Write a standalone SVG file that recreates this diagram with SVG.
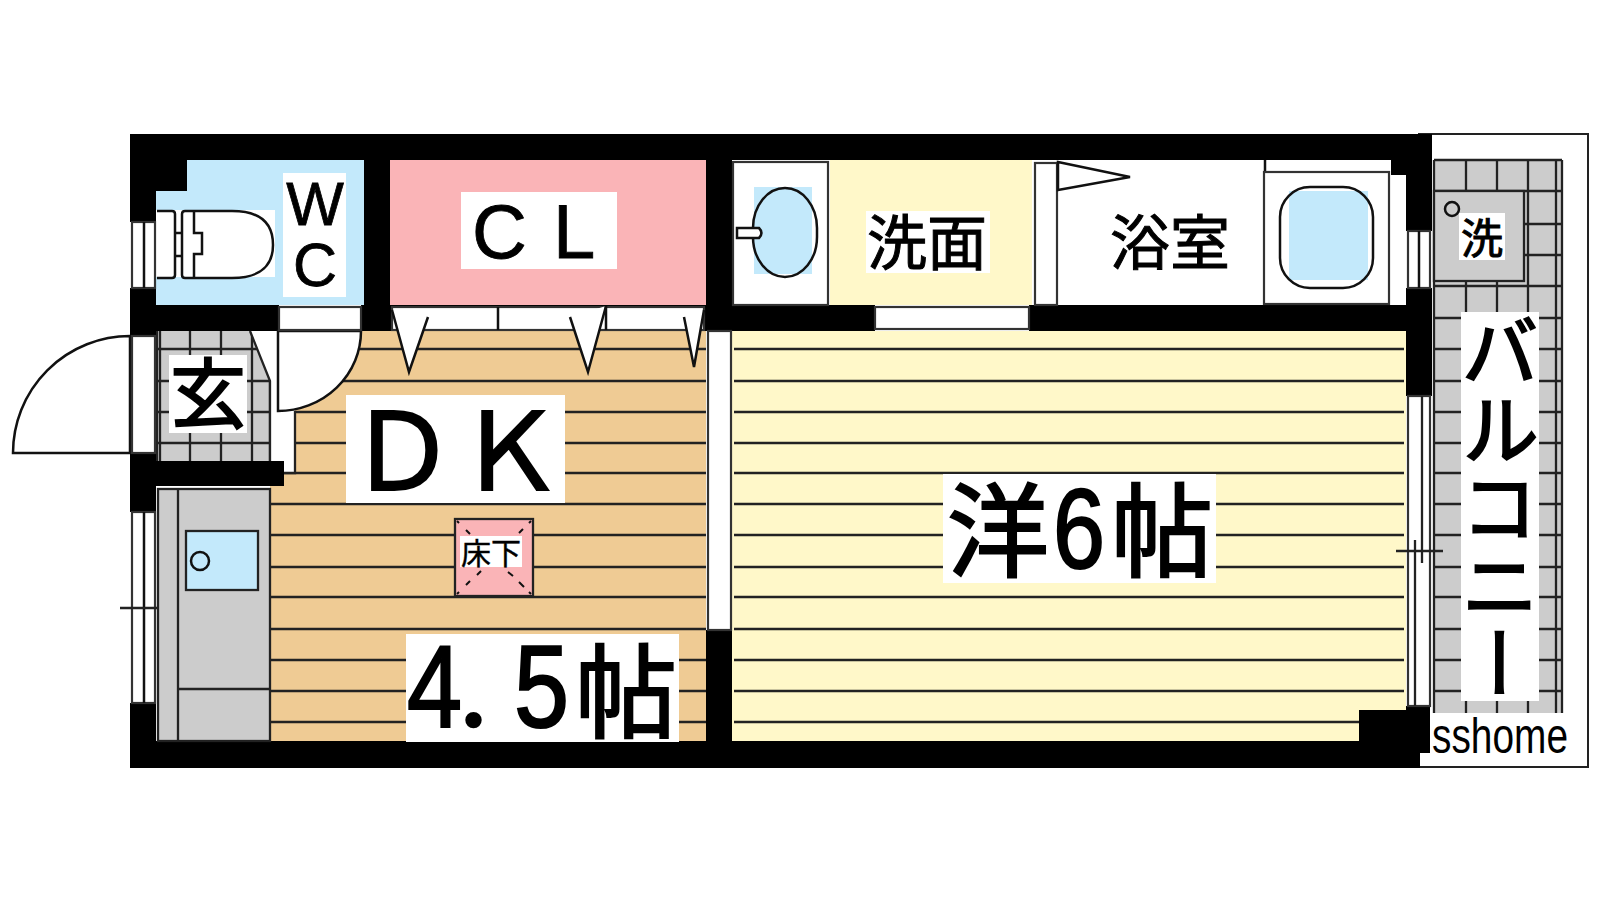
<svg xmlns="http://www.w3.org/2000/svg" width="1600" height="900" viewBox="0 0 1600 900">
<style>
.l{stroke:#111;stroke-width:2.5;fill:none}
.t{stroke:#222;stroke-width:2.3;fill:none}
.f{stroke:#333;stroke-width:2.2;fill:#fff}
.v{stroke:#111;stroke-width:2.5;fill:#fff}
.o{fill:#fff;stroke:none}
.k{fill:#000}
.w{fill:#fff}
.g{font-family:"Noto Sans CJK JP","Liberation Sans",sans-serif;fill:#000;stroke:#000;stroke-width:1}
.b{stroke-width:2}
.s{font-family:"Liberation Sans","Noto Sans CJK JP",sans-serif;fill:#000;stroke:#000;stroke-width:.8}
</style>
<rect width="1600" height="900" fill="#fff"/>
<g id="floors">
<rect id="balcony-frame" x="1419" y="134" width="169" height="633" fill="#fff" stroke="#222" stroke-width="2"/>
<rect x="1433" y="160" width="129" height="553" fill="#ccc"/>
<rect x="295" y="331" width="411" height="142" fill="#efcb94"/>
<rect x="270" y="473" width="436" height="268" fill="#efcb94"/>
<rect x="732" y="331" width="674" height="410" fill="#fff8c9"/>
<rect x="156" y="331" width="114" height="130" fill="#ccc"/>
<rect x="156" y="160" width="208" height="145" fill="#c3e9fb"/>
<rect x="390" y="160" width="316" height="145" fill="#fab4b7"/>
<rect x="830" y="160" width="202" height="145" fill="#fff8c9"/>
</g>
<g id="floor-lines" class="t">
<path d="M295 349H706M295 381H706M295 412H706M295 443H706M284 473H706M270 504H706M268 535H706M268 567H706M268 597H706M268 629H706M268 660H706M268 691H706M268 722H706"/>
<path d="M734 349H1404M734 381H1404M734 412H1404M734 443H1404M734 473H1404M734 504H1404M734 535H1404M734 567H1404M734 597H1404M734 629H1404M734 660H1404M734 691H1404M734 722H1404"/>
<path d="M156 349H270M156 381H270M156 412H270M156 443H270M157 331V461M160 331V461M190 331V461M221 331V461M252 331V461M270 381V461"/>
<path d="M1434 160H1562M1433 191H1562M1433 224H1562M1433 255H1562M1433 286H1562M1433 318H1562M1433 349H1562M1433 381H1562M1433 412H1562M1433 443H1562M1433 473H1562M1433 504H1562M1433 535H1562M1433 567H1562M1433 597H1562M1433 629H1562M1433 660H1562M1433 691H1562"/>
<path d="M1434 160V713M1466 160V713M1497 160V713M1528 160V713M1556 160V713M1562 160V713"/>
</g>
<g id="walls" class="k">
<rect x="130" y="134" width="1302" height="26"/>
<rect x="130" y="134" width="57" height="57"/>
<rect x="130" y="134" width="26" height="88"/>
<rect x="130" y="288" width="26" height="48"/>
<rect x="130" y="453" width="26" height="59"/>
<rect x="130" y="703" width="26" height="65"/>
<rect x="130" y="741" width="1290" height="27"/>
<rect x="130" y="305" width="149" height="26"/>
<rect x="130" y="461" width="154" height="25"/>
<rect x="364" y="134" width="26" height="197"/>
<rect x="361" y="305" width="29" height="26"/>
<rect x="390" y="305" width="485" height="26"/>
<rect x="706" y="134" width="26" height="197"/>
<rect x="706" y="630" width="26" height="138"/>
<rect x="1029" y="305" width="377" height="26"/>
<rect x="1391" y="134" width="41" height="41"/>
<rect x="1406" y="134" width="26" height="97"/>
<rect x="1406" y="288" width="26" height="108"/>
<rect x="1359" y="710" width="71" height="43"/>
<rect x="1406" y="706" width="24" height="47"/>
</g>
<g id="washroom">
<rect x="733" y="162" width="95" height="143" class="f"/>
<rect x="754" y="187" width="58" height="87" fill="#c3e9fb"/>
<rect x="753" y="188" width="64" height="89" rx="32" ry="40" class="l"/>
<path d="M737 228H759Q764 233 759 238H737Z" class="v"/>
<rect x="875" y="307" width="154" height="22" class="f"/>
<rect x="866" y="211" width="124" height="62" class="w"/>
<text class="g" x="927" y="265" font-size="60" text-anchor="middle">洗面</text>
</g>
<g id="bathroom">
<rect x="1058" y="160" width="333" height="145" class="w"/>
<rect x="1391" y="175" width="15" height="130" class="w"/>
<rect x="1035" y="163" width="22" height="142" class="f"/>
<path d="M1058 162L1130 177L1058 190Z" class="v"/>
<path d="M1265 160V172" class="l"/>
<rect x="1264" y="172" width="125" height="132" class="f"/>
<rect x="1289" y="191" width="79" height="89" fill="#c3e9fb"/>
<rect x="1280" y="187" width="93" height="101" rx="30" class="l"/>
<text class="g" x="1170" y="265" font-size="60" text-anchor="middle">浴室</text>
</g>
<g id="wc">
<rect x="156" y="210" width="119" height="67" class="w"/>
<path d="M157 211H172Q175 211 175 214V275Q175 278 172 278H157M175 233H182M175 256H182" class="l"/>
<path d="M185 211H232C262 211 273 225 273 245C273 264 262 278 232 278H185Q182 278 182 275V214Q182 211 185 211ZM194 211V233H202V254H194V278" class="l"/>
<rect x="283" y="173" width="63" height="124" class="w"/>
<text class="s" x="315" y="225" font-size="61" text-anchor="middle">W</text>
<text class="s" x="315" y="286" font-size="61" text-anchor="middle">C</text>
</g>
<g id="closet">
<rect x="392" y="307" width="312" height="23" class="f"/>
<path d="M392 310L409 372L428 317ZM570 317L588 372L606 306ZM684 317L694 367L704 310Z" class="o"/>
<path d="M498 307V330M606 306V330" class="l"/>
<path d="M392 310L409 372L428 317M570 317L588 372L606 306M684 317L694 367L704 310" class="l"/>
<rect x="461" y="192" width="156" height="77" class="w"/>
<text class="s" x="472" y="258" font-size="76">C</text>
<text class="s" x="553" y="258" font-size="76">L</text>
</g>
<g id="entry">
<path d="M130 336A117 117 0 0 0 13 453H130Z" class="v"/>
<rect x="132" y="336" width="23" height="117" class="f"/>
<path d="M250 331H278V411H295V473H284V461H270V381Z" class="w"/>
<path d="M250 331L270 381V461M295 411V473H284" class="t"/>
<path d="M278 331H361A83 80 0 0 1 278 411Z" class="v"/>
<rect x="279" y="307" width="82" height="23" class="f"/>
<rect x="169" y="355" width="78" height="78" class="w"/>
<text class="g b" x="208" y="422" font-size="76" text-anchor="middle">玄</text>
</g>
<g id="windows">
<rect x="132" y="222" width="23" height="66" class="f"/><path d="M144 222V288" class="l"/>
<rect x="132" y="512" width="23" height="191" class="f"/><path d="M144 512V703" class="l"/>
<path d="M120 608H167" class="t"/>
<rect x="1408" y="231" width="22" height="57" class="f"/><path d="M1419 231V288" class="l"/>
<rect x="1408" y="396" width="22" height="310" class="f"/>
<path d="M1422 396V563M1415 540V706M1396 551H1443" class="t"/>
<rect x="708" y="331" width="23" height="299" class="f"/>
</g>
<g id="kitchen">
<rect x="158" y="489" width="112" height="252" fill="#ccc" stroke="#222" stroke-width="2.3"/>
<path d="M178 489V741M178 689H270" class="t"/>
<rect x="186" y="531" width="72" height="59" fill="#c3e9fb" stroke="#222" stroke-width="2.3"/>
<circle cx="200" cy="561" r="9" class="l"/>
</g>
<g id="dk">
<rect x="346" y="395" width="219" height="108" class="w"/>
<text class="g b" x="456" y="490" font-size="108" text-anchor="middle">ＤＫ</text>
<rect x="455" y="519" width="78" height="77" fill="#fab4b7" stroke="#222" stroke-width="2.3"/>
<path d="M457 521L459 523M466 530L470 534M519 533L523 529M531 521L529 523M477 575L481 571M466 585L470 581M508 572L513 576M519 582L524 587M457 594L459 592M531 594L529 592" stroke="#111" stroke-width="2"/>
<rect x="460" y="536" width="62" height="31" class="w"/>
<text class="g" x="491" y="564" font-size="30" text-anchor="middle" style="stroke-width:.4">床下</text>
<rect x="406" y="634" width="273" height="108" class="w"/>
<text class="s" y="727" font-size="116" style="stroke-width:2.2"><tspan x="407" textLength="55" lengthAdjust="spacingAndGlyphs">4</tspan><tspan x="452" font-size="90">．</tspan><tspan x="514" textLength="55" lengthAdjust="spacingAndGlyphs">5</tspan><tspan x="575" y="730" font-size="102">帖</tspan></text>
</g>
<g id="room">
<rect x="943" y="474" width="273" height="109" class="w"/>
<text class="s" y="569" font-size="102" style="stroke-width:2.2"><tspan x="947">洋</tspan><tspan x="1053" y="568" font-size="114" textLength="52" lengthAdjust="spacingAndGlyphs">6</tspan><tspan x="1111" y="569">帖</tspan></text>
</g>
<g id="balcony">
<rect x="1434" y="191" width="90" height="90" fill="#ccc" stroke="#222" stroke-width="2.3"/>
<circle cx="1452" cy="209" r="7" class="l"/>
<rect x="1459" y="213" width="46" height="47" class="w"/>
<text class="g" x="1482" y="254" font-size="42" text-anchor="middle">洗</text>
<rect x="1461" y="312" width="78" height="389" class="w"/>
<text class="g b" x="1500" y="312" font-size="78" style="writing-mode:vertical-rl">バルコニー</text>
<rect x="1430" y="713" width="157" height="40" class="w"/>
<rect x="1420" y="753" width="167" height="13" class="w"/>
<text class="s" x="1432" y="753" font-size="50" textLength="136" lengthAdjust="spacingAndGlyphs" style="stroke-width:0">sshome</text>
</g>
</svg>
